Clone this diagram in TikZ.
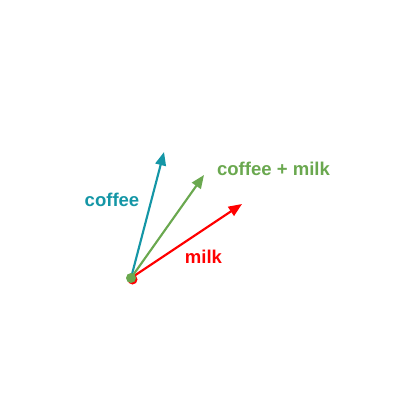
\documentclass[tikz,border=0pt]{standalone}
\usepackage{fontspec}
\setmainfont{Liberation Sans}
\usetikzlibrary{arrows.meta}
\definecolor{coffeecol}{RGB}{20,150,166}
\definecolor{mixcol}{RGB}{106,168,79}
\definecolor{milkcol}{RGB}{255,0,0}
\begin{document}
\begin{tikzpicture}[x=0.75pt,y=-0.75pt]
\tikzstyle{every node}=[font=\fontsize{13.9}{16}\selectfont\bfseries]
\tikzstyle{vec}=[line width=1.6pt,-{Triangle[length=10pt,width=8pt]}]
\useasboundingbox (0,0) rectangle (420,420);

\coordinate (origin) at (131,278);
\coordinate (coffee) at (164,152);
\coordinate (mix) at (204,175);
\coordinate (milk) at (242,204);

\draw [vec, coffeecol] (origin) -- (coffee);
\draw [vec, milkcol] (origin) -- (milk);
\draw [vec, mixcol] (origin) -- (mix);

\fill [milkcol] (132.5,279.5) circle (5);
\fill [mixcol] (origin) circle (5);

\node [coffeecol] (coffee label) at (112,200) {coffee};
\node [mixcol] (mix label) at (273.5,168.5) {coffee + milk};
\node [milkcol] (milk label) at (203.5,256.5) {milk};
\end{tikzpicture}
\end{document}
